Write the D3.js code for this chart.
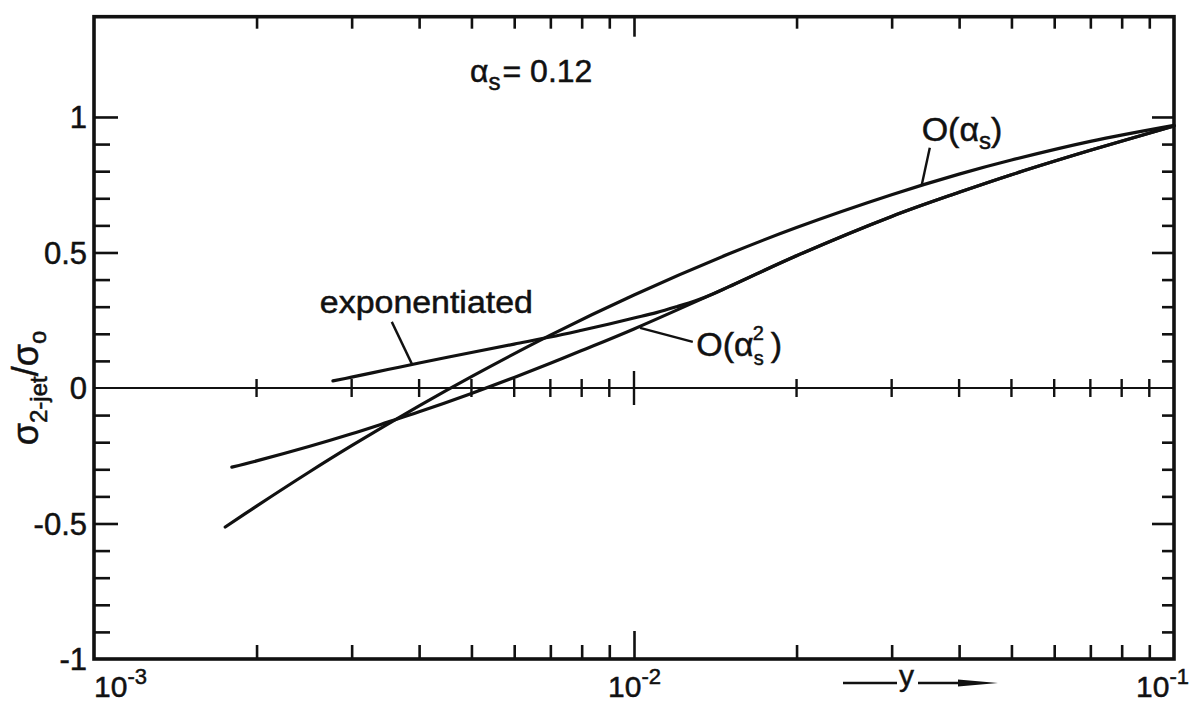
<!DOCTYPE html>
<html>
<head>
<meta charset="utf-8">
<script src="https://cdn.jsdelivr.net/npm/d3@7"></script>
<style>
  html, body { margin: 0; padding: 0; background: #fff; }
  svg { display: block; }
  text { font-family: "Liberation Sans", "DejaVu Sans", sans-serif; fill: #111; stroke: #111; stroke-width: 0.5px; }
</style>
</head>
<body>
<svg id="chart" width="1192" height="706"></svg>
<script>
// Two-jet rate sigma_2-jet / sigma_0 versus the jet resolution y (alpha_s = 0.12)

// O(alpha_s) prediction
const firstOrderY   = [0.00175, 0.002, 0.0025, 0.003, 0.004, 0.005, 0.007, 0.01, 0.015, 0.02, 0.03, 0.04, 0.05, 0.07, 0.1];
const firstOrderVal = [-0.513, -0.436, -0.311, -0.213, -0.066, 0.042, 0.195, 0.343, 0.495, 0.592, 0.713, 0.789, 0.841, 0.910, 0.969];

// O(alpha_s^2) prediction
const secondOrderY   = [0.0018, 0.002, 0.0025, 0.003, 0.0035, 0.004, 0.005, 0.006, 0.007, 0.008, 0.01, 0.015, 0.02, 0.03, 0.04, 0.05, 0.07, 0.1];
const secondOrderVal = [-0.292, -0.269, -0.216, -0.169, -0.126, -0.088, -0.020, 0.039, 0.091, 0.138, 0.218, 0.374, 0.488, 0.633, 0.722, 0.787, 0.877, 0.967];

// exponentiated prediction
const expY   = [0.00277, 0.003, 0.0035, 0.004, 0.005, 0.006, 0.007, 0.008, 0.009, 0.01, 0.011, 0.012, 0.013, 0.014, 0.015, 0.02, 0.03, 0.04, 0.05, 0.07, 0.1];
const expVal = [0.026, 0.040, 0.068, 0.092, 0.131, 0.162, 0.188, 0.213, 0.236, 0.258, 0.278, 0.300, 0.322, 0.347, 0.374, 0.488, 0.633, 0.722, 0.787, 0.877, 0.967];

// axis ticks
const yMajor = [-1, -0.5, 0, 0.5, 1];
const yMinor = [-0.9, -0.8, -0.7, -0.6, -0.4, -0.3, -0.2, -0.1, 0.1, 0.2, 0.3, 0.4, 0.6, 0.7, 0.8, 0.9];
const xMajor = [0.01];
const xMinor = [0.002, 0.003, 0.004, 0.005, 0.006, 0.007, 0.008, 0.009,
                0.02, 0.03, 0.04, 0.05, 0.06, 0.07, 0.08, 0.09];
const xLabels = [
  { v: 0.001, exp: "-3" },
  { v: 0.01,  exp: "-2" },
  { v: 0.1,   exp: "-1" }
];

const svg = d3.select("#chart");
svg.append("rect").attr("width", 1192).attr("height", 706).attr("fill", "#fff");

const x = d3.scaleLog().domain([1e-3, 1e-1]).range([94, 1174]);
const y = d3.scaleLinear().domain([-1, 1.37]).range([659, 16.7]);

const X0 = x(1e-3), X1 = x(1e-1), Y0 = y(-1), Ytop = y(1.37);
const ink = "#111";

function clean(g) {
  g.select(".domain").remove();
  g.selectAll("line").attr("stroke", ink).attr("stroke-width", 2.6);
}

// left axis: ticks point into the plot
svg.append("g").attr("transform", `translate(${X0},0)`)
  .call(d3.axisRight(y).tickValues(yMinor).tickSize(16).tickFormat(""))
  .call(clean);
svg.append("g").attr("transform", `translate(${X0},0)`)
  .call(d3.axisRight(y).tickValues(yMajor.filter(d => d !== 0 && d !== -1)).tickSize(24).tickFormat(""))
  .call(clean);

// right axis
svg.append("g").attr("transform", `translate(${X1},0)`)
  .call(d3.axisLeft(y).tickValues(yMinor).tickSize(12).tickFormat(""))
  .call(clean);
svg.append("g").attr("transform", `translate(${X1},0)`)
  .call(d3.axisLeft(y).tickValues(yMajor.filter(d => d !== 0 && d !== -1)).tickSize(22).tickFormat(""))
  .call(clean);

// top axis
svg.append("g").attr("transform", `translate(0,${Ytop})`)
  .call(d3.axisBottom(x).tickValues(xMinor).tickSize(12).tickFormat(""))
  .call(clean);
svg.append("g").attr("transform", `translate(0,${Ytop})`)
  .call(d3.axisBottom(x).tickValues(xMajor).tickSize(20).tickFormat(""))
  .call(clean);

// bottom axis
svg.append("g").attr("transform", `translate(0,${Y0})`)
  .call(d3.axisTop(x).tickValues(xMinor).tickSize(14).tickFormat(""))
  .call(clean);
svg.append("g").attr("transform", `translate(0,${Y0})`)
  .call(d3.axisTop(x).tickValues(xMajor).tickSize(28).tickFormat(""))
  .call(clean);

// zero line with crossing ticks
svg.append("line")
  .attr("x1", X0).attr("x2", X1).attr("y1", y(0)).attr("y2", y(0))
  .attr("stroke", ink).attr("stroke-width", 2.2);
svg.append("g").selectAll("line")
  .data(xMinor.map(v => ({ v, h: 9 })).concat(xMajor.map(v => ({ v, h: 17 }))))
  .join("line")
  .attr("x1", d => x(d.v)).attr("x2", d => x(d.v))
  .attr("y1", d => y(0) - d.h).attr("y2", d => y(0) + d.h)
  .attr("stroke", ink).attr("stroke-width", 2.4);

// frame
svg.append("rect")
  .attr("x", X0).attr("y", Ytop)
  .attr("width", X1 - X0).attr("height", Y0 - Ytop)
  .attr("fill", "none").attr("stroke", ink).attr("stroke-width", 3.6);

// y tick labels
svg.append("g").selectAll("text")
  .data(yMajor)
  .join("text")
  .attr("x", X0 - 7).attr("y", d => y(d))
  .attr("dy", "0.36em")
  .attr("text-anchor", "end")
  .attr("font-size", 31)
  .text(d => d === 0 ? "0" : String(d));

// x tick labels (powers of ten)
const xl = svg.append("g").selectAll("text")
  .data(xLabels)
  .join("text")
  .attr("x", (d, i) => i === 0 ? x(d.v) : (i === 1 ? x(d.v) - 26 : x(d.v) - 38))
  .attr("y", 697)
  .attr("font-size", 30);
xl.append("tspan").text("10");
xl.append("tspan").attr("dy", -13).attr("font-size", 22).text(d => d.exp);

// y-axis title
const yt = svg.append("text")
  .attr("transform", `translate(38,${y(0)}) rotate(-90)`)
  .attr("text-anchor", "middle")
  .attr("font-size", 36);
yt.append("tspan").text("σ");
yt.append("tspan").attr("font-size", 24).attr("dy", 9).text("2-jet");
yt.append("tspan").attr("dy", -9).text("/σ");
yt.append("tspan").attr("font-size", 24).attr("dy", 8).text("o");

// x-axis title with arrow
const xt = svg.append("g");
xt.append("line").attr("x1", 843).attr("x2", 897).attr("y1", 683).attr("y2", 683)
  .attr("stroke", ink).attr("stroke-width", 2.4);
xt.append("text").attr("x", 899).attr("y", 686).attr("font-size", 30).text("y");
xt.append("line").attr("x1", 918).attr("x2", 975).attr("y1", 683).attr("y2", 683)
  .attr("stroke", ink).attr("stroke-width", 2.4);
xt.append("path").attr("d", "M958,679.5 L998,683 L958,686.5 Z").attr("fill", ink);

// curves
const line = d3.line()
  .x(d => x(d[0]))
  .y(d => y(d[1]))
  .curve(d3.curveCatmullRom.alpha(0.5));

const curves = [
  d3.zip(firstOrderY, firstOrderVal),
  d3.zip(secondOrderY, secondOrderVal),
  d3.zip(expY, expVal)
];
svg.append("g").selectAll("path")
  .data(curves)
  .join("path")
  .attr("d", line)
  .attr("fill", "none")
  .attr("stroke", ink)
  .attr("stroke-width", 3.2)
  .attr("stroke-linecap", "round")
  .attr("stroke-linejoin", "round");

// leader lines from the labels to their curves (data coordinates)
const leaders = [
  [[0.0341, 0.748], [0.0353, 0.886]],
  [[0.01026, 0.222], [0.01285, 0.170]],
  [[0.00388, 0.088], [0.00356, 0.244]]
];
svg.append("g").selectAll("line")
  .data(leaders)
  .join("line")
  .attr("x1", d => x(d[0][0])).attr("y1", d => y(d[0][1]))
  .attr("x2", d => x(d[1][0])).attr("y2", d => y(d[1][1]))
  .attr("stroke", ink).attr("stroke-width", 2.4);

// curve labels
const l1 = svg.append("text").attr("x", x(0.0341)).attr("y", y(0.911)).attr("font-size", 34);
l1.append("tspan").text("O(α");
l1.append("tspan").attr("font-size", 24).attr("dy", 8).text("s");
l1.append("tspan").attr("dy", -8).text(")");

const l2 = svg.append("text").attr("x", x(0.01304)).attr("y", y(0.118)).attr("font-size", 34);
l2.append("tspan").text("O(α");
l2.append("tspan").attr("font-size", 20).attr("dy", 9).text("s");
l2.append("tspan").attr("font-size", 20).attr("dx", -11).attr("dy", -25).text("2");
l2.append("tspan").attr("dx", 7).attr("dy", 16).text(")");

svg.append("text")
  .attr("x", x(0.00262)).attr("y", y(0.277))
  .attr("font-size", 31)
  .attr("textLength", 213).attr("lengthAdjust", "spacingAndGlyphs")
  .text("exponentiated");

const l4 = svg.append("text").attr("x", x(0.00497)).attr("y", y(1.129)).attr("font-size", 32);
l4.append("tspan").text("α");
l4.append("tspan").attr("font-size", 24).attr("dy", 8).text("s");
l4.append("tspan").attr("dy", -8).attr("dx", 2).text("= 0.12");
</script>
</body>
</html>
